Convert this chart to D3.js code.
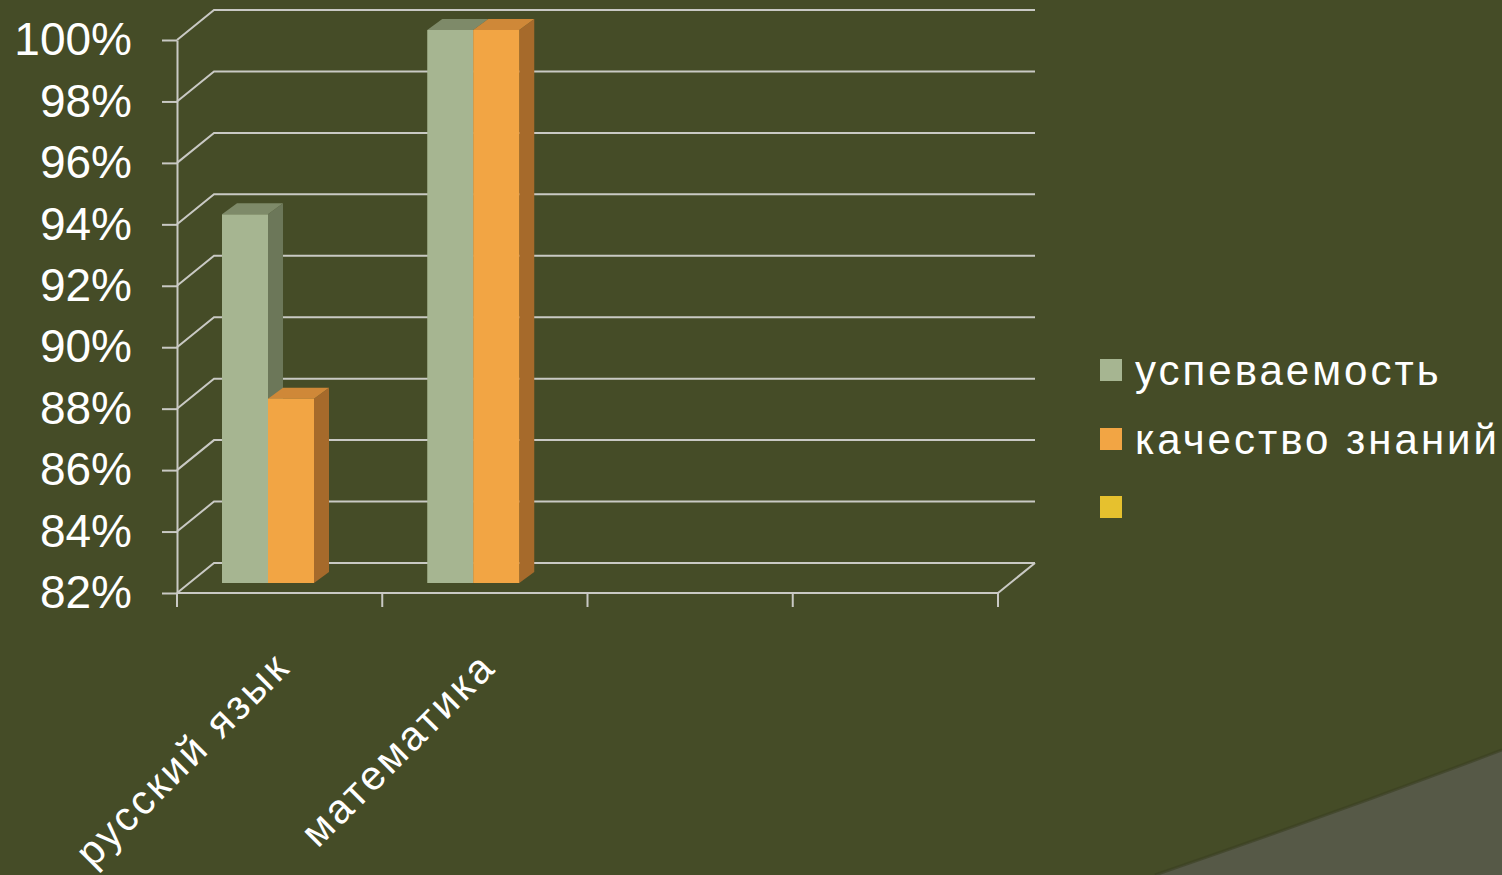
<!DOCTYPE html>
<html><head><meta charset="utf-8">
<script src="https://cdn.jsdelivr.net/npm/d3@7"></script>
<style>
html,body{margin:0;padding:0;background:#454C27;overflow:hidden;}
svg{display:block;font-family:"Liberation Sans",Arial,sans-serif;}
</style></head>
<body>
<svg id="c" width="1502" height="875"></svg>
<script>
const categories = ["русский язык", "математика", "", ""];
const seriesNames = ["успеваемость", "качество знаний", ""];
const uspevaemost = [94, 100, null, null];
const kachestvo = [88, 100, null, null];
const thirdSeries = [null, null, null, null];
const yTicks = [82, 84, 86, 88, 90, 92, 94, 96, 98, 100];

const seriesColors = [
  {front:"#A6B591", side:"#6C7759", top:"#7E8A69"},
  {front:"#F2A544", side:"#A66A2B", top:"#CF8838"},
  {front:"#E6C12E", side:"#A88A1E", top:"#C9A626"}
];
const gridColor = "#C9C9C4";

const svg = d3.select("#c");
// decorative background swoosh
svg.append("path")
  .attr("d","M1155,875 Q1330,815 1502,750 L1502,875 Z")
  .attr("fill","#565947");
svg.append("path")
  .attr("d","M1155,875 Q1330,815 1502,750")
  .attr("fill","none").attr("stroke","#3A3F22").attr("stroke-width",3).attr("opacity",0.6);

const x = d3.scaleBand().domain(categories.map((c,i)=>i)).range([177, 998]);
const y = d3.scaleLinear().domain([82, 100]).range([593, 40]);
const wall = {dx:37, dy:-30};
const barPlane = {dx:12, dy:-10};
const barDepth = {dx:15, dy:-11};
const sub = d3.scaleBand().domain([0,1]).range([33, 125]);

const g = svg.append("g");
g.selectAll("path.grid").data(yTicks).enter().append("path")
  .attr("class","grid")
  .attr("d", t => `M${x.range()[0]},${y(t)} L${x.range()[0]+wall.dx},${y(t)+wall.dy} L${x.range()[1]+wall.dx},${y(t)+wall.dy}`)
  .attr("fill","none").attr("stroke",gridColor).attr("stroke-width",2);
g.append("path")
  .attr("d",`M${x.range()[0]},${y(82)} L${x.range()[1]},${y(82)} L${x.range()[1]+wall.dx},${y(82)+wall.dy}`)
  .attr("fill","none").attr("stroke",gridColor).attr("stroke-width",2);

const yAxis = d3.axisLeft(y).tickValues(yTicks).tickFormat(d=>d+"%").tickSize(15).tickPadding(30).tickSizeOuter(0);
const ya = svg.append("g").attr("transform",`translate(${x.range()[0]},0)`).call(yAxis);
ya.select(".domain").attr("stroke",gridColor).attr("stroke-width",2);
ya.selectAll(".tick line").attr("stroke",gridColor).attr("stroke-width",2);
ya.selectAll(".tick text").attr("fill","#FFFFFF").style("font-size","46px").style("font-family","'Liberation Sans',Arial,sans-serif");

const edges = categories.map((c,i)=>x(i)).concat([x.range()[1]]);
svg.selectAll("line.xt").data(edges).enter().append("line")
  .attr("x1",d=>d).attr("x2",d=>d).attr("y1",y(82)).attr("y2",y(82)+14)
  .attr("stroke",gridColor).attr("stroke-width",2);

const allSeries = [uspevaemost, kachestvo, thirdSeries];
const bars = svg.append("g");
categories.forEach((c,ci)=>{
  [0,1].forEach(si=>{
    const v = allSeries[si][ci];
    if (v == null) return;
    const col = seriesColors[si];
    const x0 = x(ci) + sub(si) + barPlane.dx;
    const x1 = x0 + sub.bandwidth();
    const yb = y(82) + barPlane.dy;
    const yt = y(v) + barPlane.dy;
    const dx = barDepth.dx, dy = barDepth.dy;
    bars.append("path").attr("d",`M${x1},${yb} L${x1+dx},${yb+dy} L${x1+dx},${yt+dy} L${x1},${yt} Z`).attr("fill",col.side);
    bars.append("path").attr("d",`M${x0},${yt} L${x0+dx},${yt+dy} L${x1+dx},${yt+dy} L${x1},${yt} Z`).attr("fill",col.top);
    bars.append("rect").attr("x",x0).attr("y",yt).attr("width",x1-x0).attr("height",yb-yt).attr("fill",col.front);
  });
});

svg.selectAll("text.cat").data(categories).enter().append("text")
  .attr("class","cat")
  .attr("transform",(d,i)=>`translate(${x(i)+x.bandwidth()/2+13},${y(82)+76}) rotate(-45)`)
  .attr("text-anchor","end")
  .attr("fill","#FFFFFF").style("font-size","41px").style("letter-spacing","3px")
  .text(d=>d);

const leg = svg.append("g").attr("transform","translate(1100,0)");
const legY = [370, 439, 507];
seriesNames.forEach((s,i)=>{
  leg.append("rect").attr("x",0).attr("y",legY[i]-11).attr("width",22).attr("height",22).attr("fill",seriesColors[i].front);
  leg.append("text").attr("x",35).attr("y",legY[i]).attr("dy","0.35em")
    .attr("fill","#FFFFFF").style("font-size","42px").style("letter-spacing","3px").text(s);
});
</script>
</body></html>
